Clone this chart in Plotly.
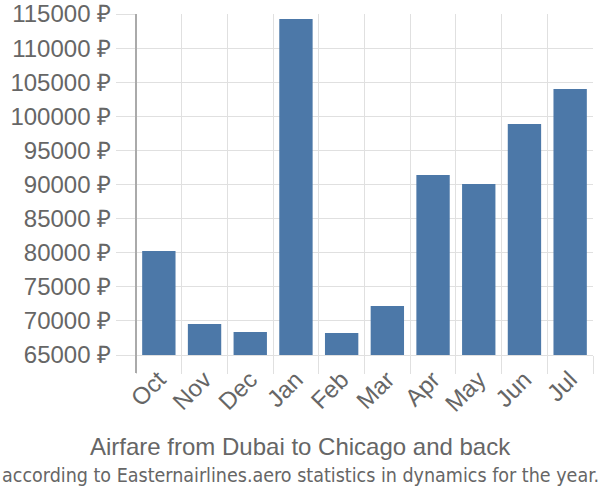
import plotly.graph_objects as go

months = ["Oct", "Nov", "Dec", "Jan", "Feb", "Mar", "Apr", "May", "Jun", "Jul"]
prices = [80250, 69550, 68370, 114270, 68230, 72190, 91390, 90070, 98870, 104000]
tick_vals = list(range(65000, 115001, 5000))
tick_text = [f"{v} ₽" for v in tick_vals]

L, R, T, B = 136, 7, 14, 145
W, H = 600, 500
ph = H - T - B
pw = W - L - R

fig = go.Figure(go.Bar(x=months, y=prices, marker_color="#4c78a8",
                       marker_line_width=0, width=0.73, hoverinfo="skip"))

fig.update_layout(
    width=W, height=H,
    margin=dict(l=L, r=R, t=T, b=B, autoexpand=False),
    paper_bgcolor="white", plot_bgcolor="white",
    font=dict(family="Liberation Sans, Arial", color="#666666"),
    showlegend=False,
    annotations=[
        dict(text="Airfare from Dubai to Chicago and back",
             x=(300 - L) / pw, y=(H - B - 446) / ph, xref="paper", yref="paper",
             yanchor="middle", showarrow=False, font=dict(size=24, color="#666666")),
        dict(text="according to Easternairlines.aero statistics in dynamics for the year.",
             x=(300 - L) / pw, y=(H - B - 475) / ph, xref="paper", yref="paper",
             yanchor="middle", showarrow=False,
             font=dict(size=19.5, family="DejaVu Sans Condensed, Liberation Sans", color="#666666")),
    ],
)

fig.update_yaxes(range=[65000, 115000], tickvals=tick_vals, ticktext=tick_text,
                 automargin=False,
                 showgrid=True, gridcolor="#e0e0e0", gridwidth=1,
                 ticks="outside", ticklen=19, tickcolor="#e0e0e0",
                 tickfont=dict(size=24, color="#666666"),
                 showline=False, zeroline=False)
fig.update_xaxes(tickson="boundaries", showgrid=True, gridcolor="#e0e0e0",
                 automargin=False,
                 ticks="outside", ticklen=18, tickcolor="#e0e0e0",
                 tickangle=-45, tickfont=dict(size=24, color="#666666"),
                 showline=True, linecolor="#e0e0e0", mirror=False, zeroline=False)
fig.add_shape(type="line", xref="paper", yref="paper", x0=0, x1=0, y0=-18 / ph, y1=1,
              line=dict(color="#aaaaaa", width=2))

fig.write_html("out.html", config={"displayModeBar": False},
               post_script="document.body.style.margin='0';")
